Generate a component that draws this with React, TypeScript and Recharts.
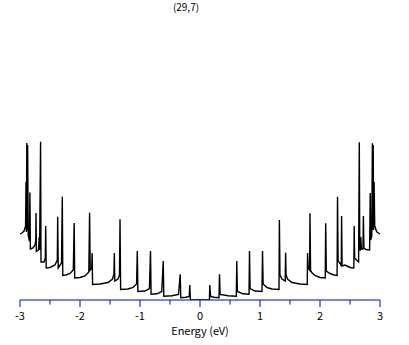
import React from "react";
import { Line, LineChart, XAxis, YAxis } from "recharts";

// (29,7) nanotube density of states
const energy = [
  -3.0, -2.967, -2.933, -2.907, -2.9, -2.893, -2.887, -2.88, -2.873, -2.863,
  -2.843, -2.835, -2.827, -2.783, -2.75, -2.737, -2.733, -2.727, -2.692, -2.68,
  -2.673, -2.657, -2.65, -2.6, -2.578, -2.572, -2.563, -2.5, -2.417, -2.378,
  -2.372, -2.363, -2.308, -2.295, -2.287, -2.233, -2.167, -2.112, -2.097, -2.088,
  -2.0, -1.917, -1.853, -1.84, -1.83, -1.805, -1.798, -1.79, -1.667, -1.533,
  -1.458, -1.435, -1.428, -1.42, -1.367, -1.342, -1.333, -1.323, -1.2, -1.117,
  -1.057, -1.045, -1.035, -0.917, -0.843, -0.825, -0.815, -0.717, -0.637, -0.613,
  -0.603, -0.467, -0.358, -0.33, -0.32, -0.233, -0.18, -0.17, -0.16,
  0.157, 0.163, 0.177, 0.233, 0.317, 0.325, 0.335, 0.467, 0.605, 0.613,
  0.623, 0.717, 0.817, 0.825, 0.835, 0.917, 1.033, 1.042, 1.052, 1.117,
  1.2, 1.317, 1.323, 1.333, 1.367, 1.42, 1.427, 1.435, 1.458, 1.533,
  1.667, 1.787, 1.793, 1.803, 1.827, 1.833, 1.843, 1.862, 1.917, 2.0,
  2.087, 2.095, 2.105, 2.167, 2.233, 2.285, 2.292, 2.302, 2.342, 2.355,
  2.36, 2.368, 2.417, 2.5, 2.563, 2.57, 2.578, 2.608, 2.643, 2.655,
  2.663, 2.673, 2.68, 2.69, 2.717, 2.723, 2.732, 2.767, 2.827, 2.837,
  2.845, 2.863, 2.873, 2.88, 2.887, 2.893, 2.902, 2.912, 2.945, 2.975, 3.0
];

const dos = [
  0.66, 0.67, 0.69, 0.74, 1.18, 0.68, 1.57, 0.7, 1.55, 0.65,
  0.59, 1.075, 0.51, 0.52, 0.55, 0.6, 0.87, 0.485, 0.5, 0.63,
  0.5, 1.583, 0.38, 0.38, 0.42, 0.74, 0.32, 0.325, 0.35, 0.4,
  0.833, 0.32, 0.37, 1.033, 0.245, 0.25, 0.265, 0.3, 0.77, 0.22,
  0.225, 0.24, 0.28, 0.873, 0.3, 0.32, 0.47, 0.155, 0.16, 0.175,
  0.21, 0.26, 0.47, 0.19, 0.21, 0.25, 0.807, 0.105, 0.11, 0.125,
  0.16, 0.49, 0.085, 0.09, 0.115, 0.49, 0.057, 0.062, 0.085, 0.39,
  0.038, 0.042, 0.055, 0.257, 0.023, 0.028, 0.035, 0.15, 0.0,
  0.0, 0.15, 0.035, 0.028, 0.023, 0.257, 0.055, 0.042, 0.038, 0.39,
  0.085, 0.062, 0.057, 0.49, 0.115, 0.09, 0.085, 0.49, 0.16, 0.125,
  0.11, 0.105, 0.8, 0.25, 0.21, 0.19, 0.473, 0.25, 0.21, 0.175,
  0.16, 0.155, 0.47, 0.32, 0.3, 0.867, 0.3, 0.275, 0.245, 0.225,
  0.22, 0.767, 0.29, 0.265, 0.25, 0.245, 1.033, 0.39, 0.36, 0.34,
  0.84, 0.34, 0.35, 0.325, 0.32, 0.74, 0.42, 0.4, 0.38, 1.577,
  0.5, 0.5, 0.63, 0.51, 0.51, 0.84, 0.52, 0.505, 0.5, 1.07,
  0.6, 0.64, 1.567, 0.7, 1.55, 0.7, 1.18, 0.74, 0.683, 0.67, 0.66
];

const xTicks = [-3, -2.5, -2, -1.5, -1, -0.5, 0, 0.5, 1, 1.5, 2, 2.5, 3];

const data = energy.map((e, i) => ({ e, d: dos[i] }));

const font = '"Noto Sans CJK JP", "Noto Sans", sans-serif';
const axisBlue = "#0000cc";

function EnergyTick(props: any) {
  const { x, y, payload } = props;
  const major = Number.isInteger(payload.value);
  return (
    <g>
      <line x1={x} y1={y} x2={x} y2={y + (major ? 7 : 4.5)} stroke={axisBlue} />
      {major && (
        <text x={x} y={y + 19.5} textAnchor="middle" fontSize={11} fontFamily={font} fill="#000">
          {payload.value}
        </text>
      )}
    </g>
  );
}

export default function App() {
  return (
    <div style={{ position: "absolute", left: 0, top: 0, width: 409, height: 345, background: "#fff" }}>
      <div
        style={{
          position: "absolute",
          left: 0,
          top: 1,
          width: 372,
          textAlign: "center",
          fontFamily: font,
          fontSize: 10,
          lineHeight: "12px"
        }}
      >
        (29,7)
      </div>
      <LineChart width={409} height={345} data={data} margin={{ top: 140, right: 29, left: 20, bottom: 0 }}>
        <XAxis
          dataKey="e"
          type="number"
          domain={[-3, 3]}
          ticks={xTicks}
          interval={0}
          height={45}
          stroke={axisBlue}
          tickLine={false}
          tickSize={0}
          tickMargin={0}
          tick={<EnergyTick />}
          label={{ value: "Energy (eV)", position: "insideBottom", offset: 10, fontSize: 11, fontFamily: font, fill: "#000" }}
        />
        <YAxis hide domain={[0, 1.6]} allowDataOverflow />
        <Line
          type="linear"
          dataKey="d"
          stroke="#000"
          strokeWidth={1.4}
          dot={false}
          isAnimationActive={false}
        />
      </LineChart>
    </div>
  );
}
